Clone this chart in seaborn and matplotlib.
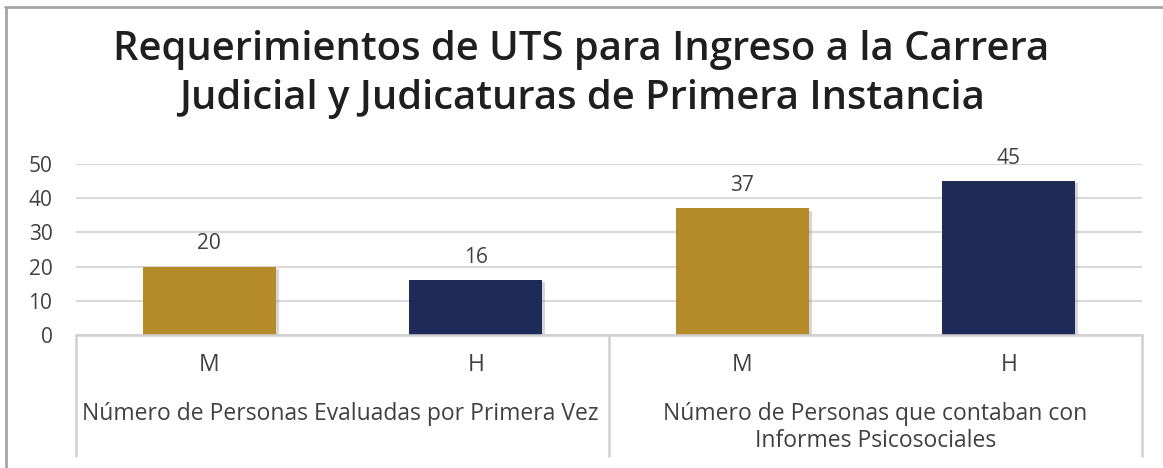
import pandas as pd
import seaborn as sns
import matplotlib.pyplot as plt
import matplotlib.patheffects as pe
from matplotlib.lines import Line2D

# Datos
grupos = ["Número de Personas Evaluadas por Primera Vez",
          "Número de Personas que contaban con\nInformes Psicosociales"]
sexo = ["M", "H", "M", "H"]
grupo_idx = [0, 0, 1, 1]
valores = [20, 16, 37, 45]
colores = ["#B58B29", "#1E2B58", "#B58B29", "#1E2B58"]
titulo = ["Requerimientos de UTS para Ingreso a la Carrera",
          "Judicial y Judicaturas de Primera Instancia"]

df = pd.DataFrame({
    "clave": [f"{g}-{s}" for g, s in zip(grupo_idx, sexo)],
    "sexo": sexo,
    "valor": valores,
})

sns.set_theme(style="white")
plt.rcParams["font.family"] = ["Open Sans", "DejaVu Sans"]

W, H = 1163, 468
fig = plt.figure(figsize=(W / 100, H / 100), dpi=100)
ax = fig.add_axes([76 / W, (H - 335) / H, (1142 - 76) / W, (335 - 164) / H])

sns.barplot(data=df, x="clave", y="valor", hue="clave", palette=colores,
            legend=False, width=0.5, ax=ax, saturation=1, linewidth=0)

# sombra suave en las barras
for p in ax.patches:
    p.set_path_effects([pe.SimplePatchShadow(offset=(2, -1.5), shadow_rgbFace="#8a8a8a", alpha=0.35),
                        pe.Normal()])

gris = "#404040"
fs = 15
fs_cat = 16.5
for i, v in enumerate(valores):
    ax.annotate(str(v), (i, v), xytext=(0, 12.5), textcoords="offset points",
                ha="center", va="baseline", fontsize=fs, color=gris)

ax.set_ylim(0, 50)
ax.set_xlim(-0.5, 3.5)
ax.set_yticks(range(0, 51, 10))
ax.yaxis.grid(True, color="#D9D9D9", linewidth=1.5)
ax.set_axisbelow(True)
for s in ax.spines.values():
    s.set_visible(False)

ax.set_xticks(range(4))
ax.set_xticklabels(sexo)
ax.tick_params(axis="x", length=0, pad=13, labelsize=fs_cat, labelcolor=gris)
ax.tick_params(axis="y", length=0, pad=17, labelsize=fs, labelcolor=gris)
ax.set_xlabel("")
ax.set_ylabel("")

# eje de categorias en dos niveles
tr = ax.get_xaxis_transform()
y_low = (335 - 456) / (335 - 164)
ax.add_line(Line2D([-0.5, 3.5], [0, 0], transform=tr, color="#D0D0D0", lw=1.8, clip_on=False))
for xv in [-0.5, 1.5, 3.5]:
    ax.add_line(Line2D([xv, xv], [0, y_low], transform=tr, color="#D0D0D0", lw=1.8, clip_on=False))

for xg, g in zip([0.49, 2.5], grupos):
    for k, linea in enumerate(g.split("\n")):
        ax.annotate(linea, (xg, 0), xycoords=tr, xytext=(0, -(85 + 27 * k) * 0.72),
                    textcoords="offset points", ha="center", va="baseline",
                    fontsize=fs_cat, color=gris)

# titulo
for k, linea in enumerate(titulo):
    fig.text(0.5, 1 - (60 + 49 * k) / H, linea, ha="center", va="baseline",
             fontsize=28.8, fontweight=600, color="#1F1F1F")

# marco de la figura
fig.add_artist(Line2D([5.5 / W, 5.5 / W], [0, 1 - 7 / H], transform=fig.transFigure, color="#A6A6A6", lw=2))
fig.add_artist(Line2D([5 / W, 1], [1 - 7 / H, 1 - 7 / H], transform=fig.transFigure, color="#A6A6A6", lw=2))

plt.savefig("out.png", dpi=100)
